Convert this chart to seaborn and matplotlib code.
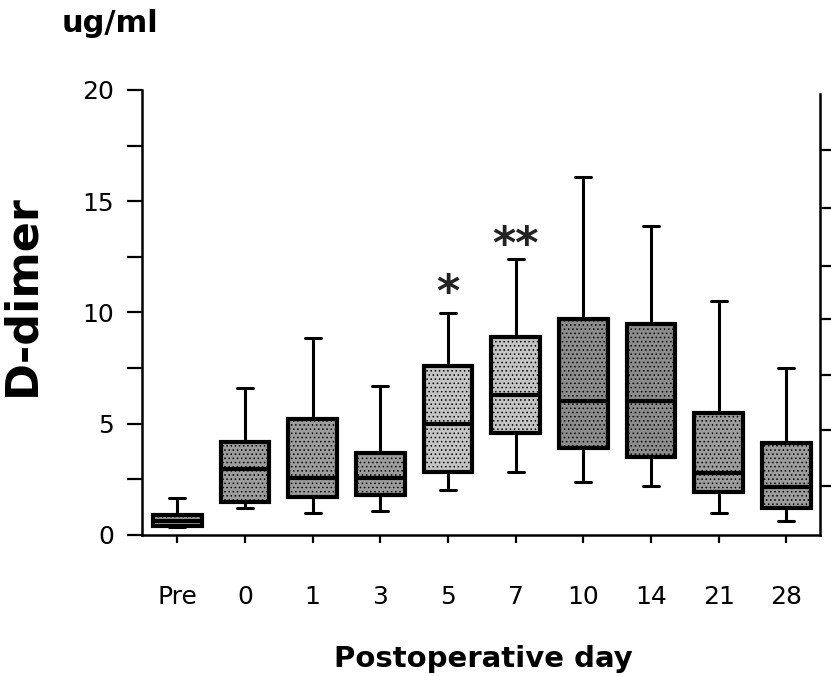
import pandas as pd
import seaborn as sns
import matplotlib.pyplot as plt
import numpy as np

## D-dimer after surgery, box plots
days = ["Pre", "0", "1", "3", "5", "7", "10", "14", "21", "28"]
whis_low = [0.35, 1.2, 1.0, 1.1, 2.0, 2.85, 2.4, 2.2, 1.0, 0.65]
q1 = [0.4, 1.5, 1.7, 1.8, 2.85, 4.6, 3.9, 3.5, 1.95, 1.2]
median = [0.65, 2.95, 2.55, 2.55, 5.0, 6.3, 6.0, 6.0, 2.8, 2.15]
q3 = [0.9, 4.2, 5.2, 3.7, 7.6, 8.9, 9.7, 9.5, 5.5, 4.15]
whis_high = [1.65, 6.6, 8.85, 6.7, 9.97, 12.4, 16.1, 13.9, 10.5, 7.5]
stars = {"5": "*", "7": "**"}
star_y = {"5": 10.3, "7": 12.45}
right_ticks = [2.2, 4.7, 7.2, 9.7, 12.1, 14.7, 17.3]

# five numbers per day -> quartiles land exactly on the read values
rows = []
for i, d in enumerate(days):
    for v in [whis_low[i], q1[i], median[i], q3[i], whis_high[i]]:
        rows.append({"day": d, "value": v})
df = pd.DataFrame(rows)

pal = {d: "#9c9c9c" for d in days}
pal["5"] = "#c4c4c4"
pal["7"] = "#c4c4c4"
pal["10"] = "#8c8c8c"
pal["14"] = "#8c8c8c"

sns.set_style("ticks")
plt.rcParams["hatch.linewidth"] = 0.6
for k in ["text.color", "axes.labelcolor", "xtick.color", "ytick.color", "axes.edgecolor"]:
    plt.rcParams[k] = "black"

fig = plt.figure(figsize=(8.31, 6.76), dpi=100)
ax = fig.add_axes([0.171, 0.2086, 0.816, 0.6583])

sns.boxplot(data=df, x="day", y="value", hue="day", order=days, palette=pal,
            legend=False, whis=(0, 100), width=0.72, linecolor="black",
            linewidth=2.2, ax=ax,
            medianprops={"linewidth": 3},
            boxprops={"linewidth": 3})
for p in ax.patches:
    p.set_hatch("....")
    p.set_edgecolor("black")

# narrower caps like the original
for ln in ax.lines:
    xs = np.asarray(ln.get_xdata(), dtype=float)
    ys = np.asarray(ln.get_ydata(), dtype=float)
    if len(xs) == 2 and ys[0] == ys[1] and abs(xs[1] - xs[0]) < 0.5:
        c = xs.mean()
        ln.set_xdata([c - 0.12, c + 0.12])

for d, s in stars.items():
    ax.text(days.index(d), star_y[d], s, ha="center", va="baseline",
            fontsize=32, fontweight="bold", color="#222222")

ax.set_ylim(0, 20)
ax.set_xlim(-0.52, 9.5)
ax.set_yticks([0, 5, 10, 15, 20])
ax.set_yticks(np.arange(2.5, 20, 5), minor=True)
ax.tick_params(axis="y", which="both", length=11, width=1.6, labelsize=18, pad=9)
ax.tick_params(axis="x", length=6, width=1.6, labelsize=18, pad=30)
for s in ["left", "bottom"]:
    ax.spines[s].set_linewidth(1.8)
ax.spines["top"].set_visible(False)
ax.spines["right"].set_visible(False)

# start of the neighbouring panel on the right
ax2 = ax.twinx()
ax2.set_ylim(0, 20)
ax2.set_yticks(right_ticks)
ax2.set_yticklabels([])
ax2.tick_params(axis="y", length=10, width=1.6)
ax2.spines["right"].set_bounds(0, 19.8)
ax2.spines["right"].set_linewidth(1.8)
for s in ["top", "left", "bottom"]:
    ax2.spines[s].set_visible(False)

ax.set_xlabel("Postoperative day", fontsize=21, fontweight="bold")
ax.xaxis.set_label_coords(0.504, -0.247)
ax.set_ylabel("D-dimer", fontsize=32, fontweight="bold")
ax.yaxis.set_label_coords(-0.146, 0.539)
fig.text(0.0746, 0.953, "ug/ml", fontsize=22, fontweight="bold", va="baseline")

plt.savefig("out.png", dpi=100)
